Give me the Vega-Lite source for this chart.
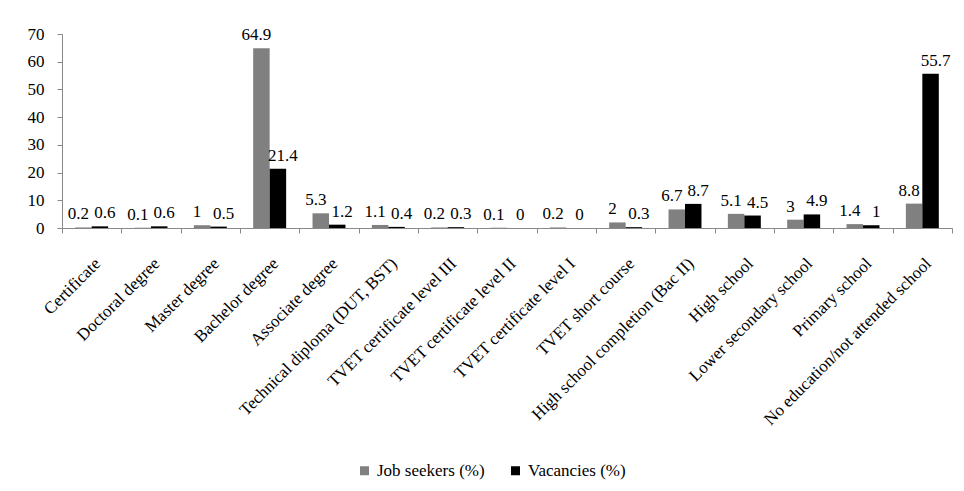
{
  "$schema": "https://vega.github.io/schema/vega-lite/v6.json",
  "width": 890,
  "height": 194,
  "autosize": "none",
  "padding": {"left": 62, "top": 34, "right": 12, "bottom": 263},
  "background": "white",
  "data": {
    "values": [
      {"level": "Certificate", "series": "Job seekers (%)", "value": 0.2},
      {"level": "Certificate", "series": "Vacancies (%)", "value": 0.6},
      {"level": "Doctoral degree", "series": "Job seekers (%)", "value": 0.1},
      {"level": "Doctoral degree", "series": "Vacancies (%)", "value": 0.6},
      {"level": "Master degree", "series": "Job seekers (%)", "value": 1},
      {"level": "Master degree", "series": "Vacancies (%)", "value": 0.5},
      {"level": "Bachelor degree", "series": "Job seekers (%)", "value": 64.9},
      {"level": "Bachelor degree", "series": "Vacancies (%)", "value": 21.4},
      {"level": "Associate degree", "series": "Job seekers (%)", "value": 5.3},
      {"level": "Associate degree", "series": "Vacancies (%)", "value": 1.2},
      {"level": "Technical diploma (DUT, BST)", "series": "Job seekers (%)", "value": 1.1},
      {"level": "Technical diploma (DUT, BST)", "series": "Vacancies (%)", "value": 0.4},
      {"level": "TVET certificate level III", "series": "Job seekers (%)", "value": 0.2},
      {"level": "TVET certificate level III", "series": "Vacancies (%)", "value": 0.3},
      {"level": "TVET certificate level II", "series": "Job seekers (%)", "value": 0.1},
      {"level": "TVET certificate level II", "series": "Vacancies (%)", "value": 0},
      {"level": "TVET certificate level I", "series": "Job seekers (%)", "value": 0.2},
      {"level": "TVET certificate level I", "series": "Vacancies (%)", "value": 0},
      {"level": "TVET short course", "series": "Job seekers (%)", "value": 2},
      {"level": "TVET short course", "series": "Vacancies (%)", "value": 0.3},
      {"level": "High school completion (Bac II)", "series": "Job seekers (%)", "value": 6.7},
      {"level": "High school completion (Bac II)", "series": "Vacancies (%)", "value": 8.7},
      {"level": "High school", "series": "Job seekers (%)", "value": 5.1},
      {"level": "High school", "series": "Vacancies (%)", "value": 4.5},
      {"level": "Lower secondary school", "series": "Job seekers (%)", "value": 3},
      {"level": "Lower secondary school", "series": "Vacancies (%)", "value": 4.9},
      {"level": "Primary school", "series": "Job seekers (%)", "value": 1.4},
      {"level": "Primary school", "series": "Vacancies (%)", "value": 1},
      {"level": "No education/not attended school", "series": "Job seekers (%)", "value": 8.8},
      {"level": "No education/not attended school", "series": "Vacancies (%)", "value": 55.7}
    ]
  },
  "encoding": {
    "x": {
      "field": "level",
      "type": "nominal",
      "sort": null,
      "title": null,
      "scale": {"paddingInner": 0, "paddingOuter": 0},
      "axis": {
        "tickBand": "extent",
        "labelAngle": -45,
        "labelAlign": "right",
        "labelBaseline": "top",
        "labelFont": "Liberation Serif",
        "labelFontSize": 17,
        "labelColor": "black",
        "labelPadding": 22,
        "labelLimit": 400,
        "domainColor": "#888888",
        "tickColor": "#888888",
        "tickSize": 5
      }
    },
    "xOffset": {
      "field": "series",
      "type": "nominal",
      "sort": ["Job seekers (%)", "Vacancies (%)"],
      "scale": {"paddingInner": 0, "paddingOuter": 0.8}
    },
    "y": {
      "field": "value",
      "type": "quantitative",
      "title": null,
      "scale": {"domain": [0, 70], "nice": false},
      "axis": {
        "values": [0, 10, 20, 30, 40, 50, 60, 70],
        "grid": false,
        "labelFont": "Liberation Serif",
        "labelFontSize": 17,
        "labelColor": "black",
        "domainColor": "#888888",
        "tickColor": "#888888",
        "tickSize": 5,
        "labelPadding": 13
      }
    }
  },
  "layer": [
    {
      "mark": {"type": "bar"},
      "encoding": {
        "color": {
          "field": "series",
          "type": "nominal",
          "sort": ["Job seekers (%)", "Vacancies (%)"],
          "scale": {"domain": ["Job seekers (%)", "Vacancies (%)"], "range": ["#808080", "#000000"]},
          "legend": {
            "title": null,
            "orient": "none",
            "legendX": 294,
            "legendY": 428,
            "direction": "horizontal",
            "symbolType": "square",
            "symbolSize": 81,
            "symbolStrokeWidth": 0,
            "labelFont": "Liberation Serif",
            "labelFontSize": 17,
            "labelColor": "black",
            "columnPadding": 22,
            "labelOffset": 4
          }
        }
      }
    },
    {
      "transform": [{"filter": "datum.series === 'Job seekers (%)'"}],
      "mark": {"type": "text", "baseline": "bottom", "dy": -4, "dx": -5, "font": "Liberation Serif", "fontSize": 17, "color": "black"},
      "encoding": {
        "text": {"field": "value", "type": "quantitative"}
      }
    },
    {
      "transform": [{"filter": "datum.series === 'Vacancies (%)'"}],
      "mark": {"type": "text", "baseline": "bottom", "dy": -4, "dx": 5, "font": "Liberation Serif", "fontSize": 17, "color": "black"},
      "encoding": {
        "text": {"field": "value", "type": "quantitative"}
      }
    }
  ],
  "config": {
    "view": {"stroke": null}
  }
}
